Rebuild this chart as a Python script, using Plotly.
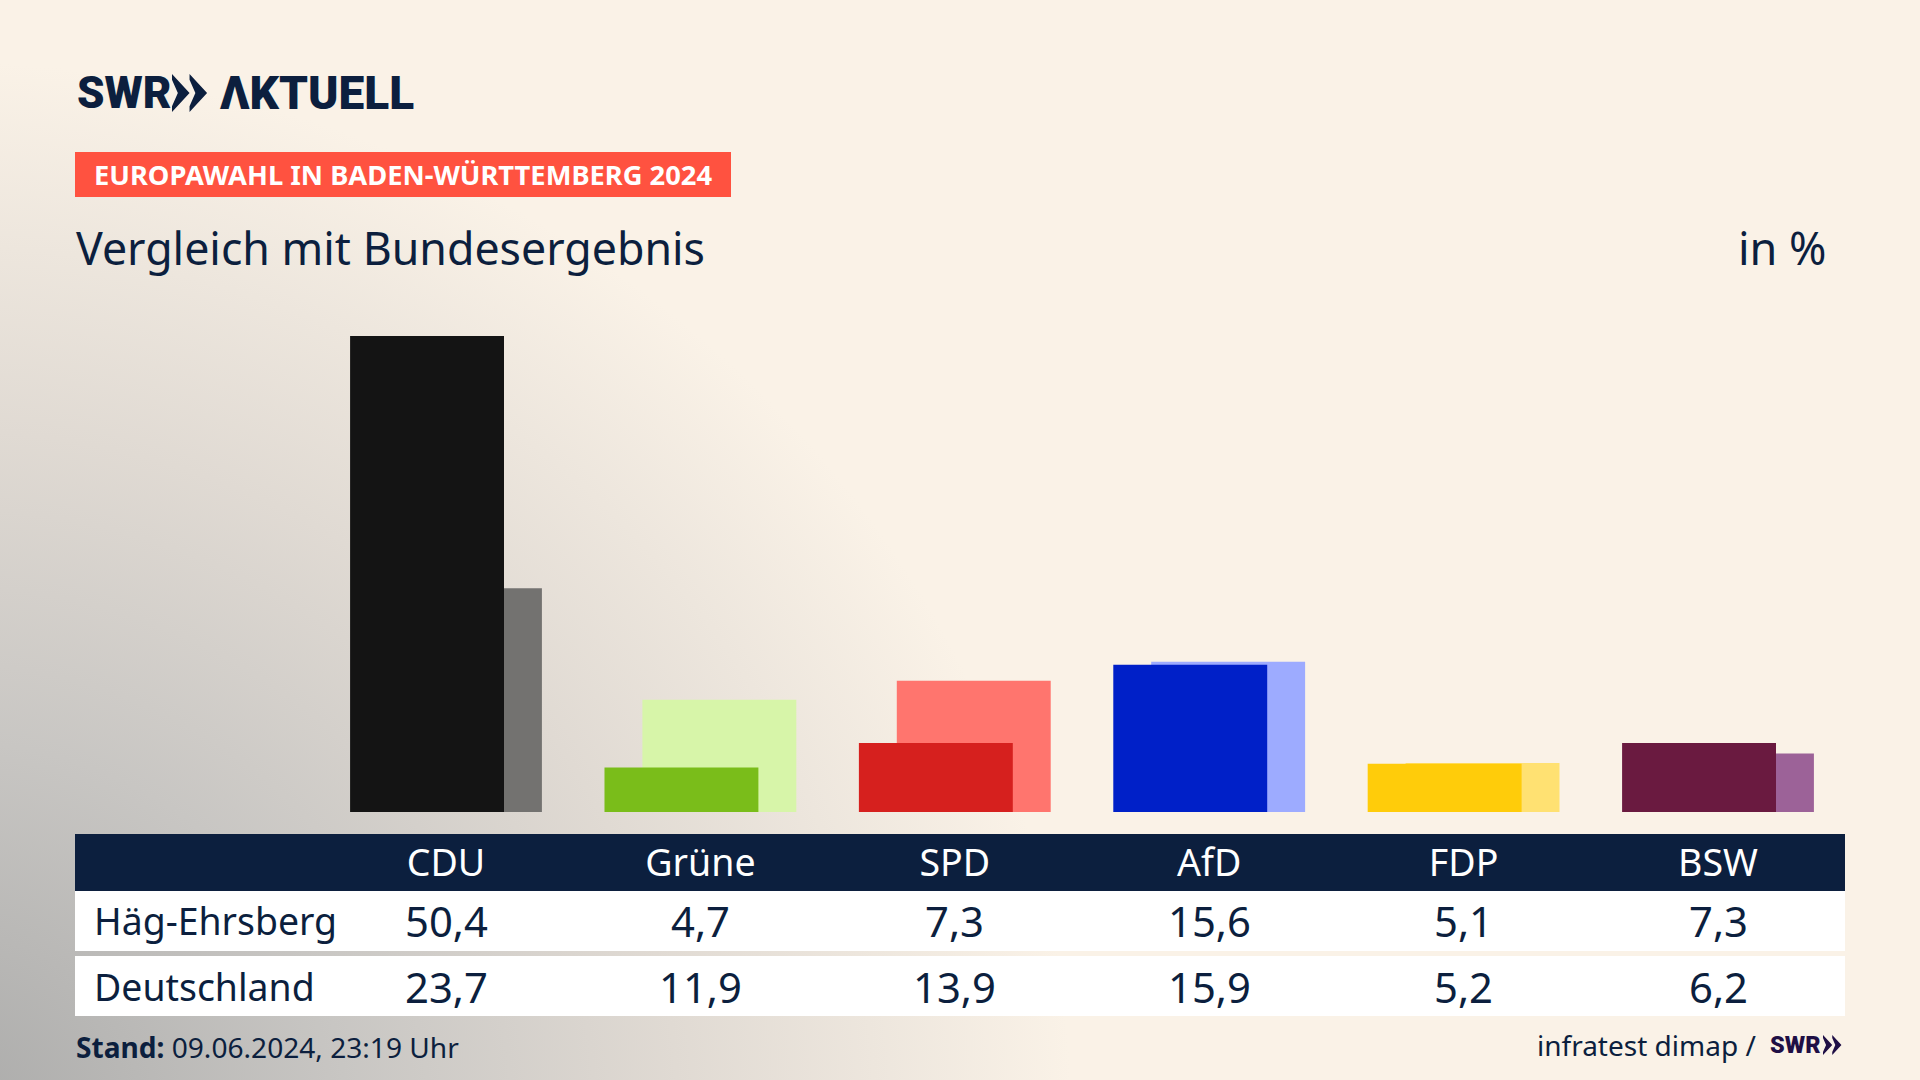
import plotly.graph_objects as go

W, H = 1920, 1080

parties = ["CDU", "Grüne", "SPD", "AfD", "FDP", "BSW"]
haeg = [50.4, 4.7, 7.3, 15.6, 5.1, 7.3]
deutschland = [23.7, 11.9, 13.9, 15.9, 5.2, 6.2]
row_names = ["Häg-Ehrsberg", "Deutschland"]
front_colors = ["#141414", "#7abd1a", "#d6201e", "#0020c8", "#ffcc0a", "#6a1a40"]
back_colors = ["#737270", "#d7f5a9", "#ff756e", "#9dabff", "#ffe172", "#9c6298"]

NAVY = "#0c1f3e"
FONT = "Noto Sans"

def px(x): return x / W
def py(y): return 1 - y / H

bg = ("data:image/svg+xml;utf8,"
      "<svg xmlns='http://www.w3.org/2000/svg' width='1920' height='1080'>"
      "<defs><radialGradient id='g' gradientUnits='userSpaceOnUse' cx='0' cy='0' r='1' "
      "gradientTransform='translate(-60 1120) scale(1230 1150)'>"
      "<stop offset='0' stop-color='%23aaaaa9'/>"
      "<stop offset='0.33' stop-color='%23c8c6c3'/>"
      "<stop offset='0.6' stop-color='%23e0dad3'/>"
      "<stop offset='0.92' stop-color='%23faf2e7'/>"
      "</radialGradient></defs>"
      "<rect width='1920' height='1080' fill='%23faf2e7'/>"
      "<rect width='1920' height='1080' fill='url(%23g)'/></svg>")

fig = go.Figure()
fig.add_bar(x=parties, y=deutschland, width=0.605, offset=-0.228, marker=dict(color=back_colors, line_width=0),
            name="Deutschland", hoverinfo="x+y")
fig.add_bar(x=parties, y=haeg, width=0.605, offset=-0.377, marker=dict(color=front_colors, line_width=0),
            name="Häg-Ehrsberg", hoverinfo="x+y")

shapes = []
def rect(x0, y0, x1, y1, color):
    shapes.append(dict(type="rect", xref="paper", yref="paper", x0=px(x0), x1=px(x1), y0=py(y0), y1=py(y1),
                       fillcolor=color, line_width=0, layer="below"))
rect(75, 152, 731, 197, "#ff5240")
rect(75, 834, 1845, 891, NAVY)
rect(75, 891, 1845, 951, "#ffffff")
rect(75, 956, 1845, 1016, "#ffffff")

def chevrons(x, y, h, color):
    s = h / 39
    d = ""
    for dx in (0, 18):
        pts = [(0, 0), (18, 19.5), (0, 39), (0, 33), (6, 19.5), (0, 6)]
        d += "M" + "L".join(f"{px(x + (dx + a) * s):.5f},{py(y + b * s):.5f}" for a, b in pts) + "Z "
    shapes.append(dict(type="path", xref="paper", yref="paper", path=d, fillcolor=color, line_width=0))
chevrons(172, 74, 38, NAVY)
chevrons(1823, 1035, 20, "#1f0f45")

ann = []
def text(x, y, s, size, color=NAVY, anchor="left", xref="paper", family=FONT, weight=None):
    f = dict(family=family, size=size, color=color)
    if weight:
        f["weight"] = weight
    ann.append(dict(x=px(x) if xref == "paper" else x, y=py(y), xref=xref, yref="paper", text=s, showarrow=False,
                    xanchor=anchor, yanchor="middle", font=f, align=anchor))

text(75, 93, "SWR", 44, family="Roboto", weight=900)
text(218, 93, "ΛKTUELL", 46, family="Roboto", weight=900)
text(92, 175, "<b>EUROPAWAHL IN BADEN-WÜRTTEMBERG 2024</b>", 27.3, "#ffffff")
text(74, 247, "Vergleich mit Bundesergebnis", 44.7)
text(1829, 247, "in %", 45, anchor="right")
for row_y, name, vals in ((920, row_names[0], haeg), (986, row_names[1], deutschland)):
    text(92, row_y, name, 37.4)
    for p, v in zip(parties, vals):
        text(p, row_y, f"{v:.1f}".replace(".", ","), 41.8, anchor="center", xref="x")
text(74, 1047, "<b>Stand:</b> 09.06.2024, 23:19 Uhr", 28.1)
text(1758, 1045, "infratest dimap /", 28, anchor="right")
text(1768, 1045, "SWR", 23.5, "#1f0f45", family="Roboto", weight=900)

fig.update_layout(
    width=W, height=H, margin=dict(l=0, r=0, t=0, b=0), autosize=False,
    barmode="overlay", showlegend=False, paper_bgcolor="#faf2e7", plot_bgcolor="rgba(0,0,0,0)",
    shapes=shapes, annotations=ann,
    images=[dict(source=bg, xref="paper", yref="paper", x=0, y=1, sizex=1, sizey=1,
                 xanchor="left", yanchor="top", sizing="stretch", layer="below")],
    xaxis=dict(domain=[px(318.8), px(1845.2)], range=[-0.5, 5.5], showgrid=False, zeroline=False, showline=False,
               ticks="outside", ticklen=18, tickcolor="rgba(0,0,0,0)",
               tickfont=dict(family=FONT, size=37.5, color="#ffffff"), automargin=False),
    yaxis=dict(domain=[py(812), py(321)], range=[0, 52], visible=False),
)
fig.write_html("out.html", config=dict(displayModeBar=False),
               post_script="document.body.style.margin='0';document.documentElement.style.overflow='hidden';")
